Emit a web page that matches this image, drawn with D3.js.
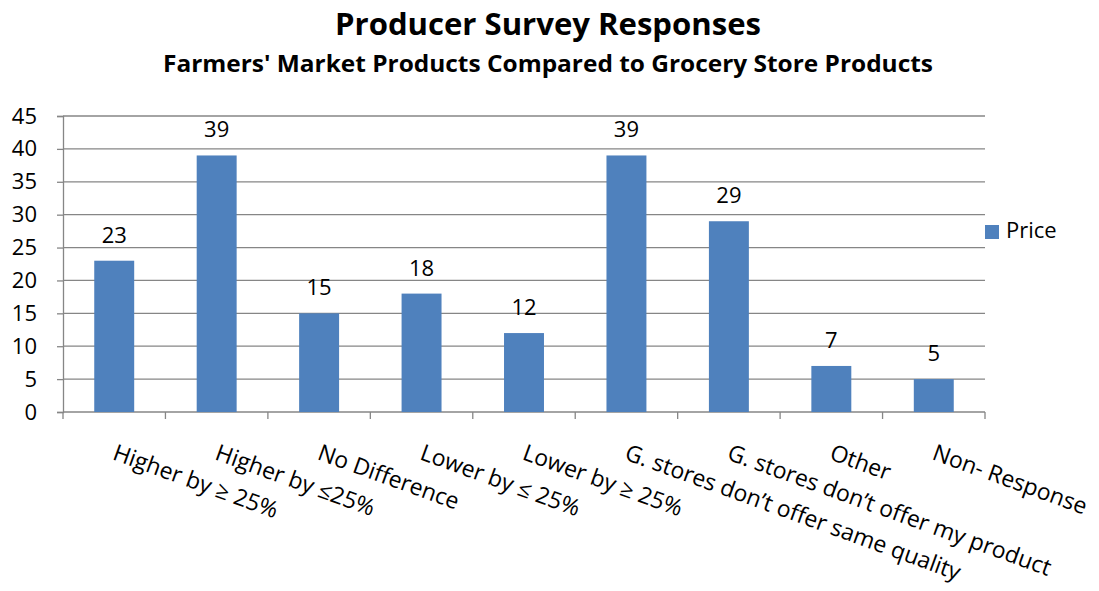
<!DOCTYPE html>
<html>
<head>
<meta charset="utf-8">
<script src="https://cdn.jsdelivr.net/npm/d3@7"></script>
<style>
  html, body { margin: 0; padding: 0; background: #fff; }
  svg { display: block; font-family: "Open Sans", "Liberation Sans", sans-serif; }
</style>
</head>
<body>
<svg id="chart" width="1099" height="591"></svg>
<script>
// Survey answers: how farmers' market prices compare with grocery stores
const categories = [
  "Higher by \u2265 25%",
  "Higher by \u226425%",
  "No Difference",
  "Lower by \u2264 25%",
  "Lower by \u2265 25%",
  "G. stores don\u2019t offer same quality",
  "G. stores don\u2019t offer my product",
  "Other",
  "Non- Response"
];
const priceValues = [23, 39, 15, 18, 12, 39, 29, 7, 5];
const seriesName = "Price";
const yTicks = [0, 5, 10, 15, 20, 25, 30, 35, 40, 45];
const titleText = "Producer Survey Responses";
const subtitleText = "Farmers' Market Products Compared to Grocery Store Products";

const svg = d3.select("#chart");
const plot = { left: 63, right: 985, top: 116, bottom: 412 };
const barColor = "#4F81BD";
const gridColor = "#868686";

const x = d3.scaleBand()
  .domain(categories)
  .range([plot.left, plot.right])
  .paddingInner(0.61)
  .paddingOuter(0.305);

const xOuter = d3.scaleBand()
  .domain(categories)
  .range([plot.left, plot.right]);

const y = d3.scaleLinear()
  .domain([0, 45])
  .range([plot.bottom, plot.top]);

// Titles
svg.append("text")
  .attr("x", 548).attr("y", 35)
  .attr("text-anchor", "middle")
  .attr("font-weight", "bold")
  .attr("font-size", 31)
  .attr("textLength", 426).attr("lengthAdjust", "spacingAndGlyphs")
  .text(titleText);

svg.append("text")
  .attr("x", 548).attr("y", 72)
  .attr("text-anchor", "middle")
  .attr("font-weight", "bold")
  .attr("font-size", 23)
  .attr("textLength", 770).attr("lengthAdjust", "spacingAndGlyphs")
  .text(subtitleText);

// Horizontal gridlines
svg.append("g")
  .selectAll("line")
  .data(yTicks.filter(d => d > 0))
  .join("line")
  .attr("x1", plot.left).attr("x2", plot.right)
  .attr("y1", d => y(d)).attr("y2", d => y(d))
  .attr("stroke", gridColor).attr("stroke-width", 1.3);

// Y axis
const yAxis = svg.append("g")
  .attr("transform", `translate(${plot.left},0)`)
  .call(d3.axisLeft(y).tickValues(yTicks).tickSize(6).tickPadding(20));
yAxis.select(".domain").attr("stroke", gridColor).attr("stroke-width", 1.3);
yAxis.selectAll(".tick line").attr("stroke", gridColor).attr("stroke-width", 1.3);
yAxis.selectAll(".tick text")
  .attr("font-size", 22)
  .attr("font-family", "\"Open Sans\", sans-serif")
  .attr("fill", "#000");

// X axis line and boundary ticks
const xAxisG = svg.append("g");
xAxisG.append("line")
  .attr("x1", plot.left).attr("x2", plot.right)
  .attr("y1", plot.bottom).attr("y2", plot.bottom)
  .attr("stroke", gridColor).attr("stroke-width", 1.3);
xAxisG.selectAll("line.tick")
  .data(categories.map(c => xOuter(c)).concat([plot.right]))
  .join("line")
  .attr("class", "tick")
  .attr("x1", d => d).attr("x2", d => d)
  .attr("y1", plot.bottom).attr("y2", plot.bottom + 7)
  .attr("stroke", gridColor).attr("stroke-width", 1.3);

// Bars
svg.append("g")
  .selectAll("rect")
  .data(priceValues)
  .join("rect")
  .attr("x", (d, i) => x(categories[i]))
  .attr("width", x.bandwidth())
  .attr("y", d => y(d))
  .attr("height", d => y(0) - y(d))
  .attr("fill", barColor);

// Value labels
svg.append("g")
  .selectAll("text")
  .data(priceValues)
  .join("text")
  .attr("x", (d, i) => x(categories[i]) + x.bandwidth() / 2)
  .attr("y", d => y(d) - 18)
  .attr("text-anchor", "middle")
  .attr("font-size", 22)
  .text(d => d);

// Rotated category labels
svg.append("g")
  .selectAll("text")
  .data(categories)
  .join("text")
  .attr("transform", d => `translate(${xOuter(d) + xOuter.bandwidth() / 2 + 3},443) rotate(20)`)
  .attr("dy", "0.74em")
  .attr("text-anchor", "start")
  .attr("font-size", 23)
  .text(d => d);

// Legend
const legend = svg.append("g").attr("transform", "translate(985,225)");
legend.append("rect")
  .attr("width", 14).attr("height", 14)
  .attr("fill", barColor);
legend.append("text")
  .attr("x", 21).attr("y", 13)
  .attr("font-size", 22)
  .text(seriesName);
</script>
</body>
</html>
